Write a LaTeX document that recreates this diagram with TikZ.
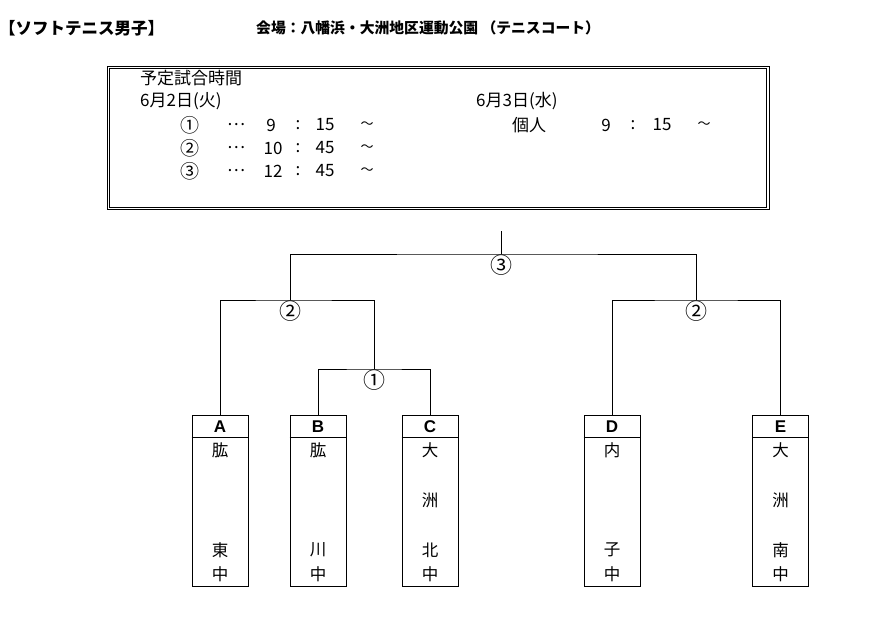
\documentclass[tikz,border=0pt]{standalone}
\usepackage{fontspec}
\setmainfont{Noto Sans CJK JP}
\newfontfamily\latinfont{Liberation Sans}
\usetikzlibrary{positioning}

\tikzset{
  bracket/.style={line width=0.9pt},
  schedbox/.style={draw, line width=0.8pt, minimum width=662pt,
    minimum height=143pt, inner sep=0pt},
  teambox/.style={draw, line width=0.9pt, minimum width=56pt,
    minimum height=171pt, inner sep=0pt},
  teamletter/.style={font=\latinfont\bfseries\fontsize{17}{17}\selectfont, inner sep=0pt},
  teamchar/.style={font=\fontsize{16.5}{16.5}\selectfont, inner sep=0pt},
  roundmark/.style={font=\fontsize{22}{22}\selectfont, inner sep=0pt},
  timetext/.style={font=\fontsize{17}{17}\selectfont, inner sep=0pt},
  timemark/.style={font=\fontsize{19}{19}\selectfont, inner sep=0pt},
  tildemark/.style={font=\fontsize{13}{13}\selectfont, inner sep=0pt},
  titletext/.style={font=\bfseries\fontsize{14.8}{14.8}\selectfont, inner sep=0pt, anchor=west},
}

\begin{document}
\begin{tikzpicture}[x=1pt, y=-1pt]
    \useasboundingbox (0,0) rectangle (871,621);

    % title line
    \node[titletext, font=\bfseries\fontsize{16.5}{16.5}\selectfont] (title) at (-1,28) {【ソフトテニス男子】};
    \node[titletext] (venue) at (256,28) {会場：八幡浜・大洲地区運動公園 （テニスコート）};

    % schedule
    \node[schedbox] (schedule) at (438,138) {};
    \draw[line width=0.8pt] ([shift={(2.6pt,-2.6pt)}]schedule.north west) rectangle ([shift={(-2.6pt,2.6pt)}]schedule.south east);
    \node[timetext, anchor=west] (schedHead) at (140,78) {予定試合時間};
    \node[timetext, anchor=west] (dayOne) at (140,101) {6月2日(火)};
    \node[timetext, anchor=west] (dayTwo) at (476,101) {6月3日(水)};
    \node[timemark] (rOne) at (190,125) {①};
    \node[timetext] (rOneDots) at (236,125) {…};
    \node[timetext] (rOneHour) at (271,125) {9};
    \node[timetext] (rOneColon) at (298,125) {:};
    \node[timetext] (rOneMin) at (325,125) {15};
    \node[tildemark] (rOneTilde) at (367,125) {〜};
    \node[timemark] (rTwo) at (190,148) {②};
    \node[timetext] (rTwoDots) at (236,148) {…};
    \node[timetext] (rTwoHour) at (273,148) {10};
    \node[timetext] (rTwoColon) at (298,148) {:};
    \node[timetext] (rTwoMin) at (325,148) {45};
    \node[tildemark] (rTwoTilde) at (367,148) {〜};
    \node[timemark] (rThree) at (190,171) {③};
    \node[timetext] (rThreeDots) at (236,171) {…};
    \node[timetext] (rThreeHour) at (273,171) {12};
    \node[timetext] (rThreeColon) at (298,171) {:};
    \node[timetext] (rThreeMin) at (325,171) {45};
    \node[tildemark] (rThreeTilde) at (367,171) {〜};
    \node[timetext] (single) at (529,125) {個人};
    \node[timetext] (singleHour) at (606,125) {9};
    \node[timetext] (singleColon) at (633,125) {:};
    \node[timetext] (singleMin) at (662,125) {15};
    \node[tildemark] (singleTilde) at (704,125) {〜};

    % teams
    \node[teambox] (teamA) at (220,500.5) {};
    \node[teambox] (teamB) at (318,500.5) {};
    \node[teambox] (teamC) at (430,500.5) {};
    \node[teambox] (teamD) at (612,500.5) {};
    \node[teambox] (teamE) at (780.5,500.5) {};
    \draw[bracket] ([yshift=-23pt]teamA.north west) -- ([yshift=-23pt]teamA.north east);
    \draw[bracket] ([yshift=-23pt]teamB.north west) -- ([yshift=-23pt]teamB.north east);
    \draw[bracket] ([yshift=-23pt]teamC.north west) -- ([yshift=-23pt]teamC.north east);
    \draw[bracket] ([yshift=-23pt]teamD.north west) -- ([yshift=-23pt]teamD.north east);
    \draw[bracket] ([yshift=-23pt]teamE.north west) -- ([yshift=-23pt]teamE.north east);

    \node[teamletter] (letterA) at (220,427) {A};
    \node[teamletter] (letterB) at (318,427) {B};
    \node[teamletter] (letterC) at (430,427) {C};
    \node[teamletter] (letterD) at (612,427) {D};
    \node[teamletter] (letterE) at (780.5,427) {E};

    \node[teamchar] (nameA1) at (220,450) {肱};
    \node[teamchar] (nameA2) at (220,550) {東};
    \node[teamchar] (nameA3) at (220,574) {中};
    \node[teamchar] (nameB1) at (318,450) {肱};
    \node[teamchar] (nameB2) at (318,550) {川};
    \node[teamchar] (nameB3) at (318,574) {中};
    \node[teamchar] (nameC1) at (430,450) {大};
    \node[teamchar] (nameC2) at (430,500) {洲};
    \node[teamchar] (nameC3) at (430,550) {北};
    \node[teamchar] (nameC4) at (430,574) {中};
    \node[teamchar] (nameD1) at (612,450) {内};
    \node[teamchar] (nameD2) at (612,550) {子};
    \node[teamchar] (nameD3) at (612,574) {中};
    \node[teamchar] (nameE1) at (780.5,450) {大};
    \node[teamchar] (nameE2) at (780.5,500) {洲};
    \node[teamchar] (nameE3) at (780.5,550) {南};
    \node[teamchar] (nameE4) at (780.5,574) {中};

    % bracket
    \coordinate (root) at (501,231);
    \coordinate (final) at (501,254);
    \coordinate (semiL) at (290,300);
    \coordinate (semiR) at (696,300);
    \coordinate (first) at (374,369);
    \draw[bracket] (teamB.north) |- (first) -| (teamC.north);
    \draw[bracket] (teamA.north) |- (semiL) -| (first);
    \draw[bracket] (teamD.north) |- (semiR) -| (teamE.north);
    \draw[bracket] (semiL) |- (final) -| (semiR);
    \draw[bracket] (final) -- (root);

    \node[roundmark] (markFirst) at (374,380) {①};
    \node[roundmark] (markSemiL) at (290,311) {②};
    \node[roundmark] (markSemiR) at (696,311) {②};
    \node[roundmark] (markFinal) at (501,265) {③};
\end{tikzpicture}
\end{document}
